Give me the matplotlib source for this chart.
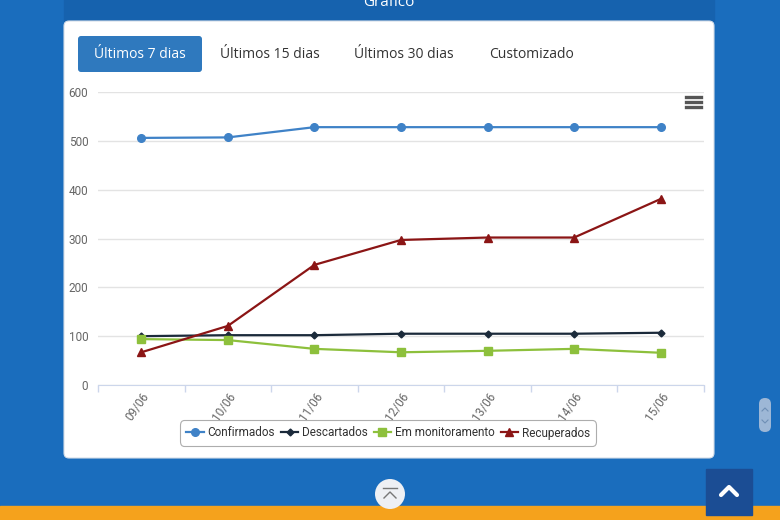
import matplotlib.pyplot as plt
from matplotlib.patches import FancyBboxPatch, Rectangle, Circle
from matplotlib.lines import Line2D

# data
dias = ["09/06", "10/06", "11/06", "12/06", "13/06", "14/06", "15/06"]
confirmados = [506, 507, 528, 528, 528, 528, 528]
descartados = [100, 102, 102, 105, 105, 105, 107]
monitoramento = [94, 92, 74, 67, 70, 74, 66]
recuperados = [67, 121, 246, 297, 302, 302, 381]
botoes = ["Últimos 7 dias", "Últimos 15 dias", "Últimos 30 dias", "Customizado"]
yticks = [0, 100, 200, 300, 400, 500, 600]

fig = plt.figure(figsize=(7.8, 5.2), dpi=100)
fig.patch.set_facecolor("#1a6dbd")

# page background drawn in pixel coords
bg = fig.add_axes([0, 0, 1, 1])
bg.set_xlim(0, 780)
bg.set_ylim(520, 0)
bg.axis("off")

bg.add_patch(Rectangle((64, -5), 650, 26, color="#1662ae", zorder=1))
bg.text(389, 2, "Gráfico", color="white", fontsize=11, ha="center", va="center",
        family="Open Sans", zorder=2)
bg.add_patch(FancyBboxPatch((64, 21), 650, 437, boxstyle="round,pad=0,rounding_size=5",
                            facecolor="white", edgecolor="#d5dde8", lw=0.8, zorder=1))

# tab buttons
bg.add_patch(FancyBboxPatch((78, 36), 124, 36, boxstyle="round,pad=0,rounding_size=3",
                            facecolor="#2f79be", edgecolor="none", zorder=2))
for label, cx in zip(botoes, [140, 270, 404, 531]):
    bg.text(cx, 54, label, fontsize=10, ha="center", va="center", family="Open Sans",
            color="white" if label == botoes[0] else "#333333", zorder=3)

# hamburger menu
for yy in [97, 102, 107]:
    bg.add_line(Line2D([686, 701], [yy, yy], color="#555555", lw=2.4, zorder=2))

# scroll pill
bg.add_patch(FancyBboxPatch((759, 398), 12, 34, boxstyle="round,pad=0,rounding_size=6",
                            facecolor="#9db7d6", edgecolor="none", zorder=2))
bg.add_line(Line2D([762, 765, 768], [411, 408, 411], color="#6f8fb5", lw=0.8, zorder=3))
bg.add_line(Line2D([762, 765, 768], [420, 423, 420], color="#6f8fb5", lw=0.8, zorder=3))

# bottom orange strip
bg.add_patch(Rectangle((0, 506), 780, 20, color="#f5a21c", zorder=1))

# go-to-top buttons
bg.add_patch(Circle((390, 494), 15, facecolor="#eef0f4", edgecolor="none", zorder=2))
bg.add_line(Line2D([383, 397], [488, 488], color="#777777", lw=1, zorder=3))
bg.add_line(Line2D([384, 390, 396], [498, 492, 498], color="#777777", lw=1, zorder=3))
bg.add_patch(Rectangle((706, 469), 46, 46, color="#1b4d94", zorder=2))
bg.add_line(Line2D([721, 729, 737], [495, 487, 495], color="white", lw=3,
                   solid_capstyle="round", solid_joinstyle="round", zorder=3))

# chart
ax = fig.add_axes([98 / 780, 1 - 385 / 520, 606 / 780, 293 / 520])
ax.set_facecolor("none")
x = range(len(dias))
ax.plot(x, confirmados, color="#3f82c7", lw=1.6, marker="o", ms=5.5, label="Confirmados", zorder=5)
ax.plot(x, descartados, color="#1b2a3a", lw=1.6, marker="D", ms=3.5, label="Descartados", zorder=5)
ax.plot(x, monitoramento, color="#8dc03c", lw=1.6, marker="s", ms=5.5, label="Em monitoramento", zorder=5)
ax.plot(x, recuperados, color="#8b1515", lw=1.6, marker="^", ms=5.5, label="Recuperados", zorder=5)

ax.set_xlim(-0.5, len(dias) - 0.5)
ax.set_ylim(0, 600)
ax.set_yticks(yticks)
ax.set_yticklabels([str(v) for v in yticks], fontsize=8.5, color="#666666", family="Roboto")
ax.tick_params(axis="y", length=0, pad=7)
ax.grid(axis="y", color="#e3e3e3", lw=1)
ax.set_axisbelow(True)

ax.set_xticks(list(x))
ax.set_xticklabels(dias, rotation=55, ha="right", rotation_mode="anchor",
                   fontsize=8.5, color="#666666", family="Roboto")
ax.tick_params(axis="x", which="major", length=0, pad=4)
ax.set_xticks([i - 0.5 for i in range(len(dias) + 1)], minor=True)
ax.tick_params(axis="x", which="minor", length=5, color="#ccd6eb", width=1)

for side in ["top", "right", "left"]:
    ax.spines[side].set_visible(False)
ax.spines["bottom"].set_color("#ccd6eb")

leg = ax.legend(loc="center", bbox_to_anchor=(388 / 780, 1 - 433 / 520),
                bbox_transform=fig.transFigure, ncol=4, handlelength=1.5,
                handletextpad=0.3, columnspacing=0.5, borderpad=0.35,
                prop={"family": "Roboto", "size": 8.5})
leg.get_frame().set_edgecolor("#999999")
leg.get_frame().set_linewidth(0.8)
leg.get_frame().set_boxstyle("round,pad=0.2,rounding_size=0.4")
for t in leg.get_texts():
    t.set_color("#333333")

fig.savefig("out.png", dpi=100, facecolor=fig.get_facecolor())
